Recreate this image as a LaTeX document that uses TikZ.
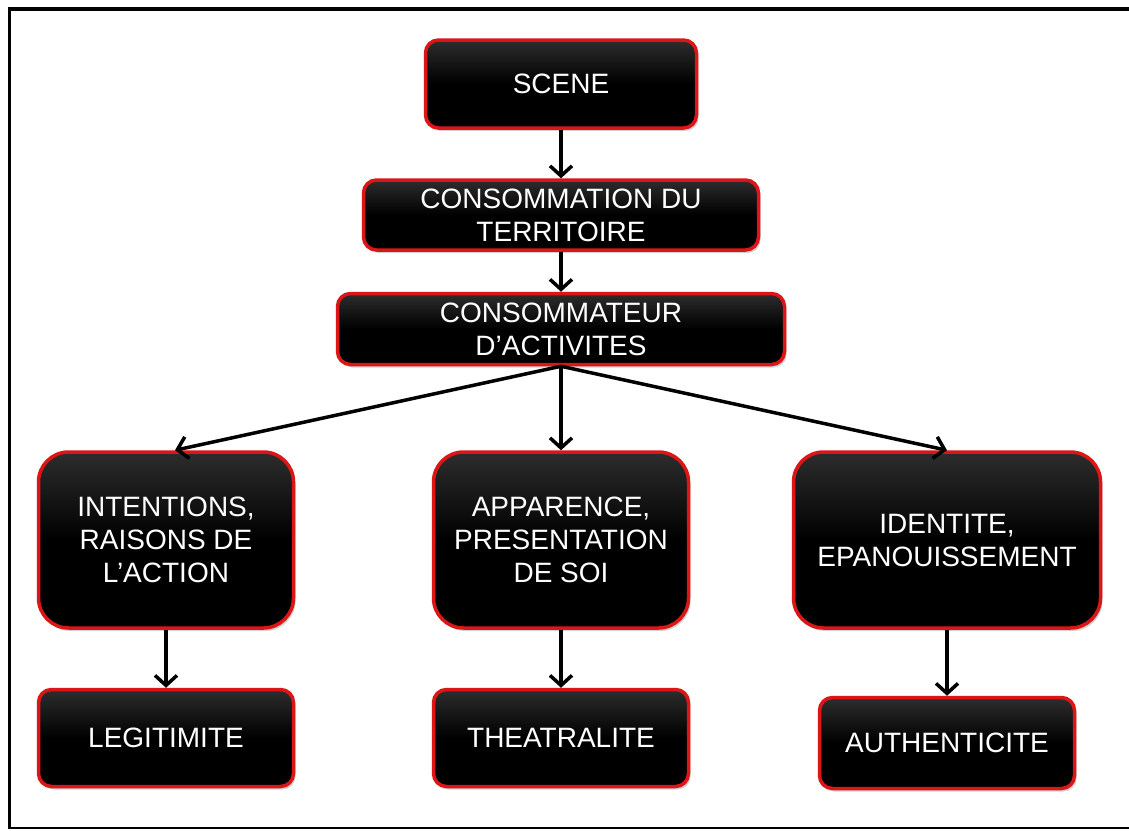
\documentclass[tikz,border=0pt]{standalone}
\usepackage{fontspec}
\setmainfont{Liberation Sans}
\usetikzlibrary{arrows.meta,shadows}
\definecolor{boxred}{RGB}{220,22,22}
\definecolor{boxtop}{RGB}{45,45,45}
\begin{document}
\begin{tikzpicture}[x=1pt,y=-1pt,
  boxbase/.style={draw=boxred, line width=3.5pt, top color=boxtop, bottom color=black, middle color=black,
    text=white, align=center, inner sep=0pt,
    font=\fontsize{28}{33}\selectfont,
    drop shadow={opacity=0.35, shadow xshift=2pt, shadow yshift=-3pt}},
  smallbox/.style={boxbase, rounded corners=13pt},
  bigbox/.style={boxbase, rounded corners=30pt},
  conn/.style={line width=3.5pt, -{Straight Barb[length=10pt,width=22pt,line width=3.5pt]}}
]
\useasboundingbox (0,0) rectangle (1129,830);
\fill[white] (0,0) rectangle (1129,830);
% frame
\draw[line width=4pt] (9,8.5) -- (1129,8.5);
\draw[line width=2.5pt] (9.5,7) -- (9.5,829);
\draw[line width=2pt] (8,828) -- (1129,828);

\node[smallbox, minimum width=271pt, minimum height=88pt] (scene) at (561,84) {SCENE};
\node[smallbox, minimum width=395pt, minimum height=70pt] (terr) at (561,215) {CONSOMMATION DU\\TERRITOIRE};
\node[smallbox, minimum width=447pt, minimum height=71pt] (act) at (561,329) {CONSOMMATEUR\\D’ACTIVITES};

\node[bigbox, minimum width=255pt, minimum height=176pt] (int) at (166,540) {INTENTIONS,\\RAISONS DE\\L’ACTION};
\node[bigbox, minimum width=255pt, minimum height=176pt] (app) at (561,540) {APPARENCE,\\PRESENTATION\\DE SOI};
\node[bigbox, minimum width=307pt, minimum height=176pt] (ide) at (947,540) {IDENTITE,\\EPANOUISSEMENT};

\node[smallbox, minimum width=255pt, minimum height=97pt] (leg) at (166,738) {LEGITIMITE};
\node[smallbox, minimum width=255pt, minimum height=97pt] (the) at (561,738) {THEATRALITE};
\node[smallbox, minimum width=255pt, minimum height=91pt] (aut) at (947,743) {AUTHENTICITE};

\draw[conn] (scene.south) -- (terr.north);
\draw[conn] (terr.south) -- (act.north);
\draw[conn] (act.south) -- ([xshift=9pt]int.north);
\draw[conn] (act.south) -- (app.north);
\draw[conn] (act.south) -- (ide.north);
\draw[conn] (int.south) -- (leg.north);
\draw[conn] (app.south) -- (the.north);
\draw[conn] (ide.south) -- (aut.north);
\end{tikzpicture}
\end{document}
